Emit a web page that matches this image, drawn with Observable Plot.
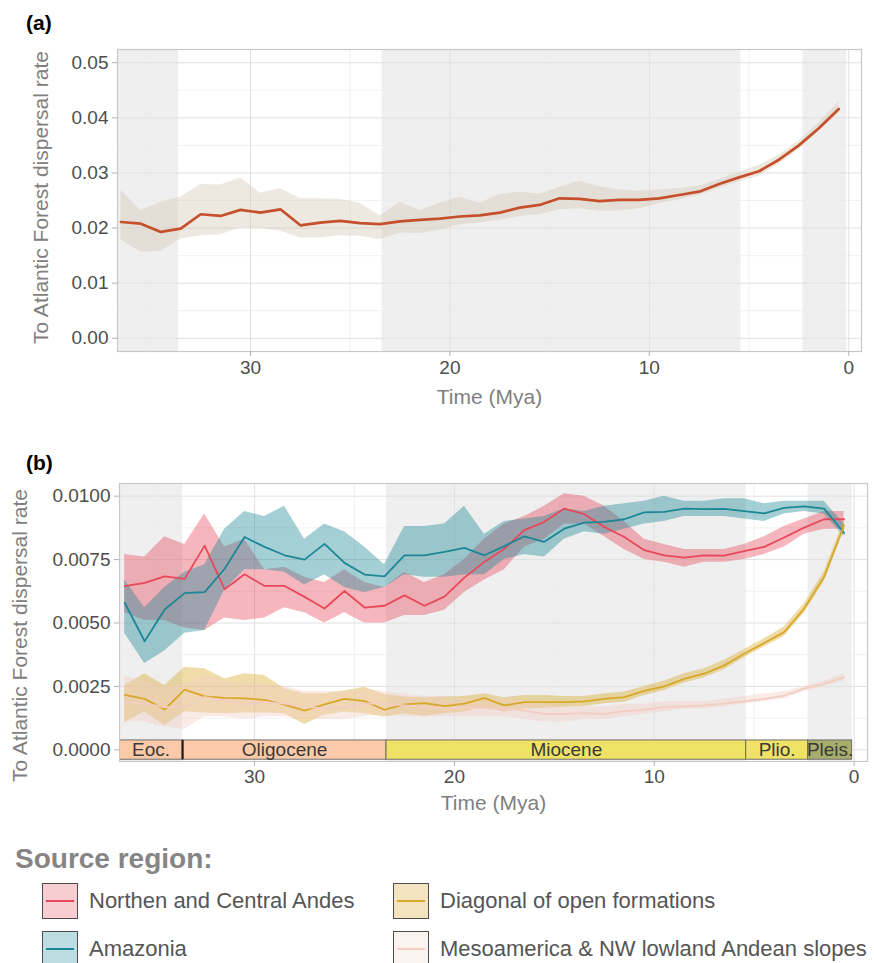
<!DOCTYPE html>
<html><head><meta charset="utf-8">
<script src="https://cdn.jsdelivr.net/npm/d3@7"></script>
<script src="https://cdn.jsdelivr.net/npm/@observablehq/plot@0.6"></script>
<style>
body{margin:0;background:#fff;font-family:"Liberation Sans",Arial,Helvetica,sans-serif;}
#wrap{position:relative;width:874px;height:963px;overflow:hidden;background:#fff;}
.abs{position:absolute;}
.plabel{font-weight:bold;font-size:21px;color:#000;line-height:1;}
.legtitle{font-weight:bold;font-size:28px;color:#858585;line-height:1;}
.legkey{width:34px;height:34px;border:1.5px solid #4d4d4d;box-sizing:content-box;}
.legline{position:absolute;left:3px;right:3px;top:16px;height:2px;}
.legtext{font-size:22px;color:#555;line-height:1;white-space:nowrap;}
</style></head><body><div id="wrap"></div>
<script>
// ---------- data ----------
const times = [36.5,35.5,34.5,33.5,32.5,31.5,30.5,29.5,28.5,27.5,26.5,25.5,24.5,23.5,22.5,21.5,20.5,19.5,18.5,17.5,16.5,15.5,14.5,13.5,12.5,11.5,10.5,9.5,8.5,7.5,6.5,5.5,4.5,3.5,2.5,1.5,0.5];

// panel (a): overall rate to the Atlantic Forest
const rateA  = [0.0211,0.0208,0.0193,0.0199,0.0225,0.0222,0.0233,0.0228,0.0234,0.0205,0.0210,0.0213,0.0209,0.0207,0.0212,0.0215,0.0217,0.0221,0.0223,0.0228,0.0237,0.0242,0.0254,0.0253,0.0249,0.0251,0.0251,0.0254,0.0260,0.0266,0.0280,0.0292,0.0303,0.0324,0.0350,0.0381,0.0416];
const upperA = [0.0268,0.0232,0.0247,0.0256,0.0279,0.0278,0.0291,0.0263,0.0272,0.0253,0.0253,0.0252,0.0245,0.0222,0.0247,0.0232,0.0245,0.0256,0.0245,0.0261,0.0265,0.0262,0.0274,0.0285,0.0275,0.0269,0.0267,0.0269,0.0272,0.0276,0.0288,0.0301,0.0314,0.0332,0.0358,0.0390,0.0429];
const lowerA = [0.0179,0.0156,0.0158,0.0180,0.0186,0.0188,0.0200,0.0199,0.0194,0.0182,0.0182,0.0186,0.0185,0.0179,0.0191,0.0190,0.0196,0.0206,0.0209,0.0214,0.0221,0.0224,0.0233,0.0235,0.0231,0.0231,0.0235,0.0244,0.0252,0.0259,0.0272,0.0284,0.0294,0.0315,0.0343,0.0375,0.0409];

// panel (b): by source region
const regionNames  = ["Northen and Central Andes","Amazonia","Diagonal of open formations","Mesoamerica & NW lowland Andean slopes"];
const regionColors = ["#e8495a","#1c8796","#d8a828","#f3cdc2"];
const regionKeyFills = ["#f8cdd1","#bddde2","#f3e4bf","#fbf3ee"];

const rateN  = [0.00645,0.00658,0.00684,0.00674,0.00805,0.00633,0.00692,0.00646,0.00646,0.00603,0.00557,0.00626,0.00561,0.00568,0.00609,0.00568,0.00604,0.00679,0.00741,0.00793,0.00866,0.00899,0.00951,0.00929,0.00879,0.00839,0.00787,0.00767,0.00758,0.00767,0.00766,0.00783,0.00800,0.00837,0.00876,0.00909,0.00909];
const upperN = [0.0077,0.0076,0.0084,0.0081,0.0093,0.0080,0.0083,0.0071,0.0072,0.0068,0.0066,0.0071,0.0066,0.0064,0.0070,0.0066,0.0069,0.0075,0.0083,0.0089,0.0092,0.0096,0.0101,0.0100,0.0096,0.0090,0.0083,0.0081,0.0079,0.0079,0.0079,0.0081,0.0084,0.0088,0.0091,0.0094,0.0094];
const lowerN = [0.0054,0.0051,0.0051,0.0048,0.0047,0.0052,0.0051,0.0052,0.0056,0.0054,0.0050,0.0054,0.0050,0.0050,0.0053,0.0053,0.0055,0.0062,0.0067,0.0071,0.0080,0.0083,0.0089,0.0089,0.0084,0.0079,0.0075,0.0074,0.0072,0.0074,0.0074,0.0075,0.0077,0.0080,0.0085,0.0087,0.0087];

const rateAm  = [0.0058,0.00428,0.00553,0.00618,0.00622,0.00714,0.00839,0.00800,0.00767,0.00750,0.00812,0.00737,0.00691,0.00684,0.00767,0.00767,0.00780,0.00796,0.00767,0.00803,0.00842,0.00820,0.00872,0.00896,0.00899,0.00909,0.00936,0.00938,0.00951,0.00949,0.00950,0.00941,0.00932,0.00954,0.00960,0.00951,0.00855];
const upperAm = [0.0067,0.0056,0.0064,0.0070,0.0073,0.0087,0.0094,0.0092,0.0096,0.0083,0.0089,0.0086,0.0080,0.0073,0.0088,0.0088,0.0089,0.0096,0.0085,0.0090,0.0091,0.0092,0.0095,0.0094,0.0096,0.0097,0.0098,0.0100,0.0098,0.0098,0.0099,0.0099,0.0097,0.0098,0.0098,0.0098,0.0089];
const lowerAm = [0.0046,0.0034,0.0039,0.0046,0.0047,0.0063,0.0071,0.0071,0.0070,0.0065,0.0069,0.0064,0.0062,0.0064,0.0069,0.0068,0.0068,0.0069,0.0069,0.0075,0.0077,0.0076,0.0083,0.0086,0.0085,0.0087,0.0089,0.0090,0.0092,0.0092,0.0092,0.0091,0.0090,0.0093,0.0094,0.0093,0.0084];

const rateD  = [0.00217,0.00201,0.00159,0.00237,0.00211,0.00205,0.00203,0.00197,0.00178,0.00155,0.00179,0.00201,0.00192,0.00158,0.00179,0.00184,0.00172,0.00182,0.00204,0.00175,0.00188,0.00188,0.00188,0.00191,0.00201,0.00208,0.00232,0.00250,0.00280,0.00300,0.00333,0.00379,0.00421,0.00464,0.00557,0.00682,0.00886];
const upperD = [0.00254,0.00300,0.00254,0.00326,0.00320,0.00280,0.00300,0.00293,0.00241,0.00221,0.00221,0.00232,0.00247,0.00218,0.00208,0.00205,0.00208,0.00210,0.00221,0.00205,0.00214,0.00214,0.00210,0.00210,0.00221,0.00228,0.00250,0.00271,0.00300,0.00320,0.00353,0.00395,0.00438,0.00484,0.00576,0.00701,0.00905];
const lowerD = [0.00109,0.00149,0.00096,0.00149,0.00145,0.00142,0.00145,0.00145,0.00142,0.00100,0.00136,0.00149,0.00142,0.00129,0.00142,0.00132,0.00142,0.00149,0.00168,0.00149,0.00162,0.00164,0.00168,0.00171,0.00182,0.00188,0.00214,0.00234,0.00263,0.00284,0.00316,0.00363,0.00405,0.00447,0.00537,0.00662,0.00866];

const rateM  = [0.00190,0.00182,0.00168,0.00168,0.00208,0.00195,0.00178,0.00188,0.00182,0.00168,0.00164,0.00168,0.00182,0.00182,0.00175,0.00168,0.00165,0.00165,0.00165,0.00162,0.00155,0.00142,0.00142,0.00145,0.00142,0.00153,0.00158,0.00168,0.00171,0.00175,0.00182,0.00191,0.00201,0.00214,0.00241,0.00260,0.00287];
const upperM = [0.0029,0.0027,0.0025,0.0026,0.0029,0.0027,0.0026,0.0026,0.0025,0.0023,0.0023,0.0023,0.0024,0.0023,0.0022,0.0021,0.0021,0.0020,0.0020,0.0020,0.0019,0.0018,0.0017,0.0017,0.0017,0.0018,0.0018,0.0019,0.0019,0.0019,0.0020,0.0021,0.0022,0.0023,0.0025,0.0027,0.0030];
const lowerM = [0.0011,0.0011,0.0009,0.0008,0.0013,0.0013,0.0012,0.0013,0.0013,0.0012,0.0012,0.0012,0.0013,0.0014,0.0013,0.0013,0.0013,0.0013,0.0013,0.0013,0.0012,0.0011,0.0011,0.0012,0.0012,0.0013,0.0014,0.0015,0.0016,0.0016,0.0017,0.0018,0.0019,0.0020,0.0023,0.0025,0.0027];

// geological epochs
const epochNames  = ["Eocene","Oligocene","Miocene","Pliocene","Pleistocene"];
const epochShort  = ["Eoc.","Oligocene","Miocene","Plio.","Pleis."];
const epochStart  = [40, 33.6, 23.4, 5.4, 2.3];
const epochEnd    = [33.6, 23.4, 5.4, 2.3, 0.1];
const epochShaded = [true, false, true, false, true];
const epochColors = ["#fdcaa9","#fdcaa9","#f0e264","#f0e264","#a9ad6c"];

// ticks
const xTicks = [30,20,10,0];
const xMinor = [35,25,15,5];
const yTicksA = [0,0.01,0.02,0.03,0.04,0.05];
const yMinorA = [0.005,0.015,0.025,0.035,0.045];
const yTicksB = [0,0.0025,0.005,0.0075,0.01];
const yMinorB = [0.00125,0.00375,0.00625,0.00875];

// ---------- tables ----------
const tableA = times.map((t,i)=>({t, mean: rateA[i], lo: lowerA[i], hi: upperA[i]}));
const seriesB = [[rateN,lowerN,upperN],[rateAm,lowerAm,upperAm],[rateD,lowerD,upperD],[rateM,lowerM,upperM]];
const tableB = [];
regionNames.forEach((r,k)=>{
  const [m,lo,hi] = seriesB[k];
  times.forEach((t,i)=>tableB.push({region:r, t, mean:m[i], lo:lo[i], hi:hi[i]}));
});
const epochs = epochNames.map((n,i)=>({name:n, short:epochShort[i], x1:epochStart[i], x2:epochEnd[i], shaded:epochShaded[i], color:epochColors[i]}));

const FONT = "Liberation Sans, Arial, Helvetica, sans-serif";
const GRID_MAJ = "#e0e0e0", GRID_MIN = "#ebebeb", SHADE = "#efefef";

function backdrop(yMajor, yMinor){
  return [
    Plot.rect(epochs.filter(e=>e.shaded), {x1:"x1", x2:"x2", fill:SHADE, clip:true}),
    Plot.gridY(yMinor, {stroke:GRID_MIN, strokeOpacity:1, strokeWidth:0.7}),
    Plot.gridX(xMinor, {stroke:GRID_MIN, strokeOpacity:1, strokeWidth:0.7}),
    Plot.gridY(yMajor, {stroke:GRID_MAJ, strokeOpacity:1, strokeWidth:1}),
    Plot.gridX(xTicks, {stroke:GRID_MAJ, strokeOpacity:1, strokeWidth:1})
  ];
}

// ---------- panel (a) ----------
const plotA = Plot.plot({
  width: 874, height: 420,
  marginTop: 49, marginRight: 13, marginBottom: 69, marginLeft: 117,
  x: {type:"linear", domain:[36.67, -0.64]},
  y: {type:"linear", domain:[-0.0024, 0.0524]},
  style: {fontFamily: FONT, background: "transparent", overflow: "visible"},
  marks: [
    ...backdrop(yTicksA, yMinorA),
    Plot.areaY(tableA, {x:"t", y1:"lo", y2:"hi", fill:"#d3c6ad", fillOpacity:0.38}),
    Plot.lineY(tableA, {x:"t", y:"mean", stroke:"#c5502b", strokeWidth:2.7}),
    Plot.frame({stroke:"#c8c8c8", strokeWidth:1.2}),
    Plot.axisY(yTicksA, {tickFormat:d3.format(".2f"), tickSize:5, tickPadding:4, fontSize:19, fill:"#4d4d4d", stroke:"#b3b3b3", label:null}),
    Plot.axisX(xTicks, {tickFormat:d3.format("d"), tickSize:5, tickPadding:4, fontSize:19, fill:"#4d4d4d", stroke:"#b3b3b3", label:null}),
    Plot.text(["Time (Mya)"], {text:d=>d, frameAnchor:"bottom", lineAnchor:"middle", textAnchor:"middle", dy:46, fontSize:21, fill:"#808080"}),
    Plot.text(["To Atlantic Forest dispersal rate"], {text:d=>d, frameAnchor:"left", lineAnchor:"middle", textAnchor:"middle", dx:-76, dy:-3, rotate:-90, fontSize:21, fill:"#808080"})
  ]
});

// ---------- panel (b) ----------
const xDomB = [36.76, -0.67];
const barY1 = -0.00039, barY2 = 0.00037;
const plotB = Plot.plot({
  width: 874, height: 380,
  marginTop: 43, marginRight: 7, marginBottom: 59, marginLeft: 119,
  x: {type:"linear", domain:xDomB},
  y: {type:"linear", domain:[-0.00046, 0.0105]},
  color: {domain: regionNames, range: regionColors},
  style: {fontFamily: FONT, background: "transparent", overflow: "visible"},
  marks: [
    ...backdrop(yTicksB, yMinorB),
    Plot.areaY(tableB, {x:"t", y1:"lo", y2:"hi", z:"region", fill:"region", fillOpacity:0.4}),
    Plot.lineY(tableB, {x:"t", y:"mean", z:"region", stroke:"region", strokeWidth:1.8}),
    Plot.rect(epochs, {x1:"x1", x2:"x2", y1:barY1, y2:barY2, fill:"color", stroke:"#6e6e6e", strokeWidth:1, clip:true}),
    Plot.ruleX([epochEnd[0]], {y1:barY1, y2:barY2, stroke:"#1a1a1a", strokeWidth:2}),
    Plot.text(epochs, {x:d=>(Math.min(d.x1, xDomB[0]) + d.x2)/2, y:0, text:"short", fontSize:19, fill:"#3a3a3a"}),
    Plot.frame({stroke:"#c8c8c8", strokeWidth:1.2}),
    Plot.axisY(yTicksB, {tickFormat:d3.format(".4f"), tickSize:5, tickPadding:4, fontSize:19, fill:"#4d4d4d", stroke:"#b3b3b3", label:null}),
    Plot.axisX(xTicks, {tickFormat:d3.format("d"), tickSize:5, tickPadding:3, fontSize:19, fill:"#4d4d4d", stroke:"#b3b3b3", label:null}),
    Plot.text(["Time (Mya)"], {text:d=>d, frameAnchor:"bottom", lineAnchor:"middle", textAnchor:"middle", dy:42, fontSize:21, fill:"#808080"}),
    Plot.text(["To Atlantic Forest dispersal rate"], {text:d=>d, frameAnchor:"left", lineAnchor:"middle", textAnchor:"middle", dx:-99, dy:13, rotate:-90, fontSize:21, fill:"#808080"})
  ]
});

// ---------- assemble ----------
const wrap = document.getElementById("wrap");
function place(el, left, top){ el.classList.add("abs"); el.style.left = left+"px"; el.style.top = top+"px"; wrap.appendChild(el); return el; }
function div(cls, txt){ const d = document.createElement("div"); d.className = cls; if (txt != null) d.textContent = txt; return d; }

place(plotA, 0, 0);
place(plotB, 0, 440);
place(div("plabel","(a)"), 26, 12);
place(div("plabel","(b)"), 26, 452);

place(div("legtitle","Source region:"), 15, 845);
const legPos = [[42,883],[42,931],[393,883],[393,931]];
regionNames.forEach((r,i)=>{
  const [lx, ly] = legPos[i];
  const key = div("legkey");
  key.style.background = regionKeyFills[i];
  const ln = div("legline"); ln.style.background = regionColors[i];
  key.appendChild(ln);
  place(key, lx, ly);
  const t = div("legtext", r);
  place(t, lx + 47, ly + 7);
});
</script></body></html>
